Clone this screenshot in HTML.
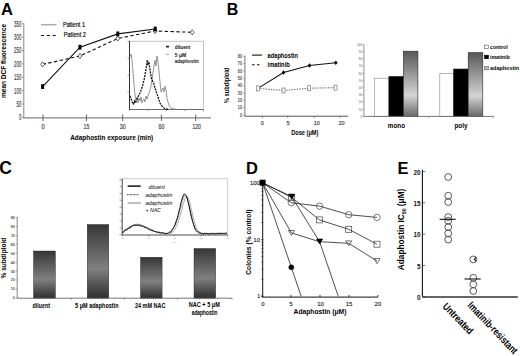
<!DOCTYPE html><html><head><meta charset="utf-8"><style>html,body{margin:0;padding:0;background:#fff;width:520px;height:356px;overflow:hidden}svg{display:block}text{font-family:"Liberation Sans",sans-serif}</style></head><body>
<svg width="520" height="356" viewBox="0 0 520 356">
<defs><linearGradient id="gb" x1="0" y1="0" x2="0" y2="1"><stop offset="0" stop-color="#575757"/><stop offset="0.68" stop-color="#d4d4d4"/><stop offset="1" stop-color="#686868"/></linearGradient><linearGradient id="gc" x1="0" y1="0" x2="0" y2="1"><stop offset="0" stop-color="#363636"/><stop offset="0.6" stop-color="#808080"/><stop offset="1" stop-color="#2e2e2e"/></linearGradient></defs>
<rect width="520" height="356" fill="#fff"/>
<text x="1.00" y="14.97" font-size="16.5" font-weight="bold" text-anchor="start" fill="#000">A</text>
<line x1="23.80" y1="23.50" x2="23.80" y2="118.00" stroke="#888" stroke-width="1"/>
<line x1="22.00" y1="117.50" x2="23.80" y2="117.50" stroke="#888" stroke-width="0.8"/>
<text x="21.30" y="120.41" font-size="8.3" text-anchor="end" fill="#333" textLength="2.40" lengthAdjust="spacingAndGlyphs" stroke="#333" stroke-width="0.13">0</text>
<line x1="22.00" y1="104.10" x2="23.80" y2="104.10" stroke="#888" stroke-width="0.8"/>
<text x="21.30" y="107.00" font-size="8.3" text-anchor="end" fill="#333" textLength="4.80" lengthAdjust="spacingAndGlyphs" stroke="#333" stroke-width="0.13">50</text>
<line x1="22.00" y1="90.70" x2="23.80" y2="90.70" stroke="#888" stroke-width="0.8"/>
<text x="21.30" y="93.61" font-size="8.3" text-anchor="end" fill="#333" textLength="7.20" lengthAdjust="spacingAndGlyphs" stroke="#333" stroke-width="0.13">100</text>
<line x1="22.00" y1="77.30" x2="23.80" y2="77.30" stroke="#888" stroke-width="0.8"/>
<text x="21.30" y="80.20" font-size="8.3" text-anchor="end" fill="#333" textLength="7.20" lengthAdjust="spacingAndGlyphs" stroke="#333" stroke-width="0.13">150</text>
<line x1="22.00" y1="63.90" x2="23.80" y2="63.90" stroke="#888" stroke-width="0.8"/>
<text x="21.30" y="66.80" font-size="8.3" text-anchor="end" fill="#333" textLength="7.20" lengthAdjust="spacingAndGlyphs" stroke="#333" stroke-width="0.13">200</text>
<line x1="22.00" y1="50.50" x2="23.80" y2="50.50" stroke="#888" stroke-width="0.8"/>
<text x="21.30" y="53.41" font-size="8.3" text-anchor="end" fill="#333" textLength="7.20" lengthAdjust="spacingAndGlyphs" stroke="#333" stroke-width="0.13">250</text>
<line x1="22.00" y1="37.10" x2="23.80" y2="37.10" stroke="#888" stroke-width="0.8"/>
<text x="21.30" y="40.00" font-size="8.3" text-anchor="end" fill="#333" textLength="7.20" lengthAdjust="spacingAndGlyphs" stroke="#333" stroke-width="0.13">300</text>
<line x1="22.00" y1="23.70" x2="23.80" y2="23.70" stroke="#888" stroke-width="0.8"/>
<text x="21.30" y="26.60" font-size="8.3" text-anchor="end" fill="#333" textLength="7.20" lengthAdjust="spacingAndGlyphs" stroke="#333" stroke-width="0.13">350</text>
<line x1="23.50" y1="117.90" x2="211.00" y2="117.90" stroke="#666" stroke-width="1"/>
<line x1="43.00" y1="114.50" x2="43.00" y2="121.00" stroke="#555" stroke-width="0.9"/>
<text x="43.00" y="129.28" font-size="6.5" text-anchor="middle" fill="#333" textLength="3.20" lengthAdjust="spacingAndGlyphs" stroke="#333" stroke-width="0.13">0</text>
<line x1="86.50" y1="114.50" x2="86.50" y2="121.00" stroke="#555" stroke-width="0.9"/>
<text x="86.50" y="129.28" font-size="6.5" text-anchor="middle" fill="#333" textLength="5.80" lengthAdjust="spacingAndGlyphs" stroke="#333" stroke-width="0.13">15</text>
<line x1="122.70" y1="114.50" x2="122.70" y2="121.00" stroke="#555" stroke-width="0.9"/>
<text x="122.70" y="129.28" font-size="6.5" text-anchor="middle" fill="#333" textLength="5.80" lengthAdjust="spacingAndGlyphs" stroke="#333" stroke-width="0.13">30</text>
<line x1="161.40" y1="114.50" x2="161.40" y2="121.00" stroke="#555" stroke-width="0.9"/>
<text x="161.40" y="129.28" font-size="6.5" text-anchor="middle" fill="#333" textLength="5.80" lengthAdjust="spacingAndGlyphs" stroke="#333" stroke-width="0.13">60</text>
<line x1="195.70" y1="114.50" x2="195.70" y2="121.00" stroke="#555" stroke-width="0.9"/>
<text x="196.70" y="129.28" font-size="6.5" text-anchor="middle" fill="#333" textLength="8.50" lengthAdjust="spacingAndGlyphs" stroke="#333" stroke-width="0.13">120</text>
<text x="70.20" y="139.98" font-size="6.8" font-weight="bold" text-anchor="start" fill="#000" textLength="83.00" lengthAdjust="spacingAndGlyphs">Adaphostin exposure (min)</text>
<text x="4.00" y="63.45" font-size="7" font-weight="bold" text-anchor="middle" fill="#000" textLength="74.00" lengthAdjust="spacingAndGlyphs" transform="rotate(-90 4.00 61.00)">mean DCF fluorescence</text>
<line x1="41.00" y1="24.70" x2="56.50" y2="24.70" stroke="#aaa" stroke-width="1.5"/>
<text x="62.90" y="27.40" font-size="6.3" text-anchor="start" fill="#000" textLength="22.20" lengthAdjust="spacingAndGlyphs" stroke="#000" stroke-width="0.15">Patient 1</text>
<line x1="41.00" y1="35.50" x2="56.50" y2="35.50" stroke="#111" stroke-width="1.2" stroke-dasharray="3.2 2.6"/>
<text x="63.70" y="36.50" font-size="6.3" text-anchor="start" fill="#000" textLength="22.20" lengthAdjust="spacingAndGlyphs" stroke="#000" stroke-width="0.15">Patient 2</text>
<polyline points="42.60,64.40 80.00,56.00 117.70,38.50 155.20,31.00 192.30,32.30" fill="none" stroke="#111" stroke-width="1.1" stroke-dasharray="3.4 2.4"/>
<polyline points="42.60,86.60 80.00,47.20 117.80,33.90 155.20,29.00" fill="none" stroke="#111" stroke-width="1.1"/>
<path d="M42.60 61.80 L44.50 64.40 L42.60 67.00 L40.70 64.40 Z" fill="#fff" stroke="#333" stroke-width="0.8"/>
<path d="M80.00 53.40 L81.90 56.00 L80.00 58.60 L78.10 56.00 Z" fill="#fff" stroke="#333" stroke-width="0.8"/>
<path d="M117.70 35.90 L119.60 38.50 L117.70 41.10 L115.80 38.50 Z" fill="#fff" stroke="#333" stroke-width="0.8"/>
<path d="M155.20 28.40 L157.10 31.00 L155.20 33.60 L153.30 31.00 Z" fill="#fff" stroke="#333" stroke-width="0.8"/>
<path d="M192.30 29.70 L194.20 32.30 L192.30 34.90 L190.40 32.30 Z" fill="#fff" stroke="#333" stroke-width="0.8"/>
<rect x="41.10" y="84.20" width="3.00" height="4.80" fill="#000" stroke="none" stroke-width="1"/>
<rect x="78.50" y="44.80" width="3.00" height="4.80" fill="#000" stroke="none" stroke-width="1"/>
<rect x="116.30" y="31.50" width="3.00" height="4.80" fill="#000" stroke="none" stroke-width="1"/>
<rect x="153.70" y="26.60" width="3.00" height="4.80" fill="#000" stroke="none" stroke-width="1"/>
<rect x="129.50" y="41.20" width="74.00" height="68.30" fill="#fff" stroke="#aaa" stroke-width="0.7"/>
<line x1="129.50" y1="41.20" x2="129.50" y2="109.50" stroke="#333" stroke-width="1"/>
<line x1="129.50" y1="109.50" x2="203.50" y2="109.50" stroke="#555" stroke-width="0.8"/>
<line x1="127.50" y1="41.20" x2="129.50" y2="41.20" stroke="#555" stroke-width="0.6"/>
<line x1="127.50" y1="58.20" x2="129.50" y2="58.20" stroke="#555" stroke-width="0.6"/>
<line x1="127.50" y1="75.20" x2="129.50" y2="75.20" stroke="#555" stroke-width="0.6"/>
<line x1="127.50" y1="92.20" x2="129.50" y2="92.20" stroke="#555" stroke-width="0.6"/>
<line x1="129.50" y1="109.50" x2="129.50" y2="111.00" stroke="#555" stroke-width="0.6"/>
<line x1="148.00" y1="109.50" x2="148.00" y2="111.00" stroke="#555" stroke-width="0.6"/>
<line x1="166.50" y1="109.50" x2="166.50" y2="111.00" stroke="#555" stroke-width="0.6"/>
<line x1="185.00" y1="109.50" x2="185.00" y2="111.00" stroke="#555" stroke-width="0.6"/>
<line x1="203.50" y1="109.50" x2="203.50" y2="111.00" stroke="#555" stroke-width="0.6"/>
<polyline points="130.00,57.00 131.00,54.00 132.00,60.00 133.00,72.00 134.00,84.00 135.00,95.00 136.00,100.00 137.00,97.00 138.00,103.00 139.00,98.00 140.00,101.00 141.00,97.00 142.00,103.00 143.00,100.00 144.00,99.00 145.00,102.00 146.00,96.00 147.00,99.00 148.00,96.00 149.00,93.00 150.00,90.00 151.00,86.00 152.00,80.00 153.00,72.00 154.00,66.00 155.00,60.00 156.00,66.00 157.00,56.00 158.00,62.00 159.00,72.00 160.00,82.00 161.00,92.00 162.00,90.00 163.00,88.00 164.00,92.00 165.00,86.00 166.00,90.00 167.00,98.00 168.00,102.00 169.00,105.00 170.00,107.00 171.00,108.00 172.00,108.50 174.00,109.00 176.00,109.00" fill="none" stroke="#888" stroke-width="0.9"/>
<polyline points="129.70,96.00 130.50,97.00 131.50,100.00 132.50,103.00 133.50,104.00 134.50,101.00 135.50,103.00 136.50,100.00 137.50,98.00 138.50,96.00 139.50,94.00 140.50,92.00 141.50,89.00 142.50,86.00 143.50,82.00 144.50,78.00 145.50,72.00 146.50,66.00 147.30,60.00 148.00,64.00 149.00,62.00 150.00,70.00 151.00,76.00 152.00,80.00 153.00,82.00 154.00,84.00 155.00,88.00 156.00,91.00 157.00,94.00 158.00,97.00 159.00,100.00 160.00,103.00 161.00,105.00 162.00,106.00 163.00,107.00 164.00,108.00 165.00,108.50 167.00,109.00 169.00,109.20" fill="none" stroke="#111" stroke-width="1.3" stroke-dasharray="2 1"/>
<line x1="166.00" y1="46.60" x2="169.00" y2="46.60" stroke="#111" stroke-width="1.6"/>
<text x="174.80" y="48.62" font-size="5.5" font-weight="bold" text-anchor="start" fill="#111" textLength="15.50" lengthAdjust="spacingAndGlyphs">diluent</text>
<line x1="166.00" y1="54.40" x2="169.00" y2="54.40" stroke="#999" stroke-width="0.9"/>
<text x="174.80" y="57.12" font-size="5.5" font-weight="bold" text-anchor="start" fill="#111" textLength="11.50" lengthAdjust="spacingAndGlyphs">5 μM</text>
<text x="174.80" y="63.32" font-size="5.5" font-weight="bold" text-anchor="start" fill="#111" textLength="24.00" lengthAdjust="spacingAndGlyphs">adaphostin</text>
<text x="226.70" y="14.70" font-size="16" font-weight="bold" text-anchor="start" fill="#000">B</text>
<line x1="244.90" y1="55.50" x2="244.90" y2="116.20" stroke="#666" stroke-width="0.9"/>
<line x1="243.30" y1="115.00" x2="244.90" y2="115.00" stroke="#666" stroke-width="0.6"/>
<text x="242.00" y="116.58" font-size="4.5" text-anchor="end" fill="#444" textLength="2.10" lengthAdjust="spacingAndGlyphs" stroke="#444" stroke-width="0.13">0</text>
<line x1="243.30" y1="107.67" x2="244.90" y2="107.67" stroke="#666" stroke-width="0.6"/>
<text x="242.00" y="109.25" font-size="4.5" text-anchor="end" fill="#444" textLength="4.20" lengthAdjust="spacingAndGlyphs" stroke="#444" stroke-width="0.13">10</text>
<line x1="243.30" y1="100.34" x2="244.90" y2="100.34" stroke="#666" stroke-width="0.6"/>
<text x="242.00" y="101.92" font-size="4.5" text-anchor="end" fill="#444" textLength="4.20" lengthAdjust="spacingAndGlyphs" stroke="#444" stroke-width="0.13">20</text>
<line x1="243.30" y1="93.01" x2="244.90" y2="93.01" stroke="#666" stroke-width="0.6"/>
<text x="242.00" y="94.59" font-size="4.5" text-anchor="end" fill="#444" textLength="4.20" lengthAdjust="spacingAndGlyphs" stroke="#444" stroke-width="0.13">30</text>
<line x1="243.30" y1="85.68" x2="244.90" y2="85.68" stroke="#666" stroke-width="0.6"/>
<text x="242.00" y="87.26" font-size="4.5" text-anchor="end" fill="#444" textLength="4.20" lengthAdjust="spacingAndGlyphs" stroke="#444" stroke-width="0.13">40</text>
<line x1="243.30" y1="78.35" x2="244.90" y2="78.35" stroke="#666" stroke-width="0.6"/>
<text x="242.00" y="79.92" font-size="4.5" text-anchor="end" fill="#444" textLength="4.20" lengthAdjust="spacingAndGlyphs" stroke="#444" stroke-width="0.13">50</text>
<line x1="243.30" y1="71.02" x2="244.90" y2="71.02" stroke="#666" stroke-width="0.6"/>
<text x="242.00" y="72.60" font-size="4.5" text-anchor="end" fill="#444" textLength="4.20" lengthAdjust="spacingAndGlyphs" stroke="#444" stroke-width="0.13">60</text>
<line x1="243.30" y1="63.69" x2="244.90" y2="63.69" stroke="#666" stroke-width="0.6"/>
<text x="242.00" y="65.27" font-size="4.5" text-anchor="end" fill="#444" textLength="4.20" lengthAdjust="spacingAndGlyphs" stroke="#444" stroke-width="0.13">70</text>
<line x1="243.30" y1="56.36" x2="244.90" y2="56.36" stroke="#666" stroke-width="0.6"/>
<text x="242.00" y="57.94" font-size="4.5" text-anchor="end" fill="#444" textLength="4.20" lengthAdjust="spacingAndGlyphs" stroke="#444" stroke-width="0.13">80</text>
<line x1="244.60" y1="116.20" x2="348.00" y2="116.20" stroke="#555" stroke-width="1"/>
<line x1="262.40" y1="116.20" x2="262.40" y2="118.00" stroke="#555" stroke-width="0.7"/>
<line x1="287.80" y1="116.20" x2="287.80" y2="118.00" stroke="#555" stroke-width="0.7"/>
<line x1="314.30" y1="116.20" x2="314.30" y2="118.00" stroke="#555" stroke-width="0.7"/>
<line x1="339.70" y1="116.20" x2="339.70" y2="118.00" stroke="#555" stroke-width="0.7"/>
<text x="262.40" y="125.10" font-size="6" text-anchor="middle" fill="#333" textLength="3.10" lengthAdjust="spacingAndGlyphs" stroke="#333" stroke-width="0.13">0</text>
<text x="288.00" y="125.10" font-size="6" text-anchor="middle" fill="#333" textLength="3.10" lengthAdjust="spacingAndGlyphs" stroke="#333" stroke-width="0.13">5</text>
<text x="316.80" y="125.10" font-size="6" text-anchor="middle" fill="#333" textLength="6.20" lengthAdjust="spacingAndGlyphs" stroke="#333" stroke-width="0.13">10</text>
<text x="341.50" y="125.10" font-size="6" text-anchor="middle" fill="#333" textLength="6.20" lengthAdjust="spacingAndGlyphs" stroke="#333" stroke-width="0.13">20</text>
<text x="304.80" y="135.01" font-size="6.3" font-weight="bold" text-anchor="middle" fill="#000" textLength="27.30" lengthAdjust="spacingAndGlyphs">Dose (μM)</text>
<text x="226.80" y="87.68" font-size="6.5" font-weight="bold" text-anchor="middle" fill="#000" textLength="35.50" lengthAdjust="spacingAndGlyphs" transform="rotate(-90 226.80 85.40)">% subdiploid</text>
<line x1="252.00" y1="55.10" x2="262.00" y2="55.10" stroke="#111" stroke-width="1.1"/>
<text x="267.60" y="57.58" font-size="6.8" font-weight="bold" text-anchor="start" fill="#000" textLength="30.30" lengthAdjust="spacingAndGlyphs">adaphostin</text>
<line x1="252.00" y1="64.80" x2="262.00" y2="64.80" stroke="#111" stroke-width="1.1" stroke-dasharray="2.6 2.4"/>
<text x="267.60" y="66.98" font-size="6.8" font-weight="bold" text-anchor="start" fill="#000" textLength="22.20" lengthAdjust="spacingAndGlyphs">imatinib</text>
<polyline points="257.90,88.40 283.50,90.50 309.20,88.20 335.50,87.70" fill="none" stroke="#444" stroke-width="0.9" stroke-dasharray="1.3 1.3"/>
<polyline points="257.90,88.40 283.50,72.50 309.50,65.50 335.80,62.70" fill="none" stroke="#111" stroke-width="1.1"/>
<rect x="256.40" y="85.90" width="3.00" height="5.00" fill="#fff" stroke="#777" stroke-width="0.7"/>
<rect x="282.00" y="88.00" width="3.00" height="5.00" fill="#fff" stroke="#777" stroke-width="0.7"/>
<rect x="307.70" y="85.70" width="3.00" height="5.00" fill="#fff" stroke="#777" stroke-width="0.7"/>
<rect x="334.00" y="85.20" width="3.00" height="5.00" fill="#fff" stroke="#777" stroke-width="0.7"/>
<path d="M283.50 70.20 L285.30 72.50 L283.50 74.80 L281.70 72.50 Z" fill="#000"/>
<path d="M309.50 63.20 L311.30 65.50 L309.50 67.80 L307.70 65.50 Z" fill="#000"/>
<path d="M335.80 60.40 L337.60 62.70 L335.80 65.00 L334.00 62.70 Z" fill="#000"/>
<line x1="363.90" y1="44.30" x2="363.90" y2="116.40" stroke="#777" stroke-width="0.8"/>
<line x1="362.40" y1="116.40" x2="363.90" y2="116.40" stroke="#777" stroke-width="0.5"/>
<text x="362.00" y="117.73" font-size="3.8" text-anchor="end" fill="#555" textLength="1.60" lengthAdjust="spacingAndGlyphs">0</text>
<line x1="362.40" y1="109.21" x2="363.90" y2="109.21" stroke="#777" stroke-width="0.5"/>
<text x="362.00" y="110.54" font-size="3.8" text-anchor="end" fill="#555" textLength="3.20" lengthAdjust="spacingAndGlyphs">10</text>
<line x1="362.40" y1="102.02" x2="363.90" y2="102.02" stroke="#777" stroke-width="0.5"/>
<text x="362.00" y="103.35" font-size="3.8" text-anchor="end" fill="#555" textLength="3.20" lengthAdjust="spacingAndGlyphs">20</text>
<line x1="362.40" y1="94.83" x2="363.90" y2="94.83" stroke="#777" stroke-width="0.5"/>
<text x="362.00" y="96.16" font-size="3.8" text-anchor="end" fill="#555" textLength="3.20" lengthAdjust="spacingAndGlyphs">30</text>
<line x1="362.40" y1="87.64" x2="363.90" y2="87.64" stroke="#777" stroke-width="0.5"/>
<text x="362.00" y="88.97" font-size="3.8" text-anchor="end" fill="#555" textLength="3.20" lengthAdjust="spacingAndGlyphs">40</text>
<line x1="362.40" y1="80.45" x2="363.90" y2="80.45" stroke="#777" stroke-width="0.5"/>
<text x="362.00" y="81.78" font-size="3.8" text-anchor="end" fill="#555" textLength="3.20" lengthAdjust="spacingAndGlyphs">50</text>
<line x1="362.40" y1="73.26" x2="363.90" y2="73.26" stroke="#777" stroke-width="0.5"/>
<text x="362.00" y="74.59" font-size="3.8" text-anchor="end" fill="#555" textLength="3.20" lengthAdjust="spacingAndGlyphs">60</text>
<line x1="362.40" y1="66.07" x2="363.90" y2="66.07" stroke="#777" stroke-width="0.5"/>
<text x="362.00" y="67.40" font-size="3.8" text-anchor="end" fill="#555" textLength="3.20" lengthAdjust="spacingAndGlyphs">70</text>
<line x1="362.40" y1="58.88" x2="363.90" y2="58.88" stroke="#777" stroke-width="0.5"/>
<text x="362.00" y="60.21" font-size="3.8" text-anchor="end" fill="#555" textLength="3.20" lengthAdjust="spacingAndGlyphs">80</text>
<line x1="362.40" y1="51.69" x2="363.90" y2="51.69" stroke="#777" stroke-width="0.5"/>
<text x="362.00" y="53.02" font-size="3.8" text-anchor="end" fill="#555" textLength="3.20" lengthAdjust="spacingAndGlyphs">90</text>
<line x1="362.40" y1="44.50" x2="363.90" y2="44.50" stroke="#777" stroke-width="0.5"/>
<text x="362.00" y="45.83" font-size="3.8" text-anchor="end" fill="#555" textLength="4.80" lengthAdjust="spacingAndGlyphs">100</text>
<rect x="374.30" y="78.20" width="14.60" height="38.20" fill="#fff" stroke="#888" stroke-width="0.6"/>
<rect x="388.90" y="76.40" width="14.50" height="40.00" fill="#000" stroke="#222" stroke-width="0.6"/>
<rect x="403.40" y="51.20" width="14.50" height="65.20" fill="url(#gb)" stroke="#222" stroke-width="0.6"/>
<rect x="439.80" y="73.40" width="13.80" height="43.00" fill="#fff" stroke="#888" stroke-width="0.6"/>
<rect x="453.60" y="69.00" width="14.60" height="47.40" fill="#000" stroke="#222" stroke-width="0.6"/>
<rect x="468.20" y="52.70" width="14.60" height="63.70" fill="url(#gb)" stroke="#222" stroke-width="0.6"/>
<line x1="363.90" y1="116.40" x2="493.50" y2="116.40" stroke="#666" stroke-width="0.9"/>
<line x1="429.00" y1="116.40" x2="429.00" y2="118.00" stroke="#666" stroke-width="0.6"/>
<line x1="493.50" y1="116.40" x2="493.50" y2="118.00" stroke="#666" stroke-width="0.6"/>
<text x="396.40" y="128.32" font-size="7.2" font-weight="bold" text-anchor="middle" fill="#000" textLength="17.20" lengthAdjust="spacingAndGlyphs">mono</text>
<text x="461.00" y="128.32" font-size="7.2" font-weight="bold" text-anchor="middle" fill="#000" textLength="13.00" lengthAdjust="spacingAndGlyphs">poly</text>
<rect x="484.60" y="45.10" width="3.80" height="3.50" fill="#fff" stroke="#555" stroke-width="0.6"/>
<rect x="484.60" y="55.20" width="3.80" height="3.50" fill="#000" stroke="#000" stroke-width="0.6"/>
<rect x="484.60" y="66.40" width="3.80" height="3.50" fill="#bbb" stroke="#666" stroke-width="0.6"/>
<text x="490.00" y="49.10" font-size="6" font-weight="bold" text-anchor="start" fill="#000" textLength="17.60" lengthAdjust="spacingAndGlyphs">control</text>
<text x="490.00" y="59.30" font-size="6" font-weight="bold" text-anchor="start" fill="#000" textLength="19.90" lengthAdjust="spacingAndGlyphs">imatinib</text>
<text x="490.00" y="70.10" font-size="6" font-weight="bold" text-anchor="start" fill="#000" textLength="29.20" lengthAdjust="spacingAndGlyphs">adaphostin</text>
<text x="-0.70" y="173.93" font-size="17.5" font-weight="bold" text-anchor="start" fill="#000">C</text>
<line x1="17.20" y1="216.80" x2="17.20" y2="298.20" stroke="#666" stroke-width="0.8"/>
<line x1="15.70" y1="297.80" x2="17.20" y2="297.80" stroke="#666" stroke-width="0.5"/>
<text x="14.70" y="299.31" font-size="4.3" text-anchor="end" fill="#444" textLength="2.00" lengthAdjust="spacingAndGlyphs" stroke="#444" stroke-width="0.13">0</text>
<line x1="15.70" y1="288.89" x2="17.20" y2="288.89" stroke="#666" stroke-width="0.5"/>
<text x="14.70" y="290.39" font-size="4.3" text-anchor="end" fill="#444" textLength="4.00" lengthAdjust="spacingAndGlyphs" stroke="#444" stroke-width="0.13">10</text>
<line x1="15.70" y1="279.98" x2="17.20" y2="279.98" stroke="#666" stroke-width="0.5"/>
<text x="14.70" y="281.49" font-size="4.3" text-anchor="end" fill="#444" textLength="4.00" lengthAdjust="spacingAndGlyphs" stroke="#444" stroke-width="0.13">20</text>
<line x1="15.70" y1="271.07" x2="17.20" y2="271.07" stroke="#666" stroke-width="0.5"/>
<text x="14.70" y="272.57" font-size="4.3" text-anchor="end" fill="#444" textLength="4.00" lengthAdjust="spacingAndGlyphs" stroke="#444" stroke-width="0.13">30</text>
<line x1="15.70" y1="262.16" x2="17.20" y2="262.16" stroke="#666" stroke-width="0.5"/>
<text x="14.70" y="263.67" font-size="4.3" text-anchor="end" fill="#444" textLength="4.00" lengthAdjust="spacingAndGlyphs" stroke="#444" stroke-width="0.13">40</text>
<line x1="15.70" y1="253.25" x2="17.20" y2="253.25" stroke="#666" stroke-width="0.5"/>
<text x="14.70" y="254.75" font-size="4.3" text-anchor="end" fill="#444" textLength="4.00" lengthAdjust="spacingAndGlyphs" stroke="#444" stroke-width="0.13">50</text>
<line x1="15.70" y1="244.34" x2="17.20" y2="244.34" stroke="#666" stroke-width="0.5"/>
<text x="14.70" y="245.84" font-size="4.3" text-anchor="end" fill="#444" textLength="4.00" lengthAdjust="spacingAndGlyphs" stroke="#444" stroke-width="0.13">60</text>
<line x1="15.70" y1="235.43" x2="17.20" y2="235.43" stroke="#666" stroke-width="0.5"/>
<text x="14.70" y="236.94" font-size="4.3" text-anchor="end" fill="#444" textLength="4.00" lengthAdjust="spacingAndGlyphs" stroke="#444" stroke-width="0.13">70</text>
<line x1="15.70" y1="226.52" x2="17.20" y2="226.52" stroke="#666" stroke-width="0.5"/>
<text x="14.70" y="228.03" font-size="4.3" text-anchor="end" fill="#444" textLength="4.00" lengthAdjust="spacingAndGlyphs" stroke="#444" stroke-width="0.13">80</text>
<line x1="15.70" y1="217.61" x2="17.20" y2="217.61" stroke="#666" stroke-width="0.5"/>
<text x="14.70" y="219.12" font-size="4.3" text-anchor="end" fill="#444" textLength="4.00" lengthAdjust="spacingAndGlyphs" stroke="#444" stroke-width="0.13">90</text>
<text x="3.60" y="260.55" font-size="7" font-weight="bold" text-anchor="middle" fill="#000" textLength="40.80" lengthAdjust="spacingAndGlyphs" transform="rotate(-90 3.60 258.10)">% subdiploid</text>
<rect x="33.50" y="251.00" width="21.90" height="47.20" fill="url(#gc)" stroke="#222" stroke-width="0.4"/>
<rect x="87.20" y="224.50" width="21.60" height="73.70" fill="url(#gc)" stroke="#222" stroke-width="0.4"/>
<rect x="140.50" y="257.20" width="21.60" height="41.00" fill="url(#gc)" stroke="#222" stroke-width="0.4"/>
<rect x="194.00" y="248.50" width="21.70" height="49.70" fill="url(#gc)" stroke="#222" stroke-width="0.4"/>
<line x1="17.00" y1="298.20" x2="232.10" y2="298.20" stroke="#666" stroke-width="0.9"/>
<line x1="71.20" y1="298.20" x2="71.20" y2="299.80" stroke="#555" stroke-width="0.6"/>
<line x1="124.50" y1="298.20" x2="124.50" y2="299.80" stroke="#555" stroke-width="0.6"/>
<line x1="177.60" y1="298.20" x2="177.60" y2="299.80" stroke="#555" stroke-width="0.6"/>
<line x1="232.10" y1="298.20" x2="232.10" y2="299.80" stroke="#555" stroke-width="0.6"/>
<text x="41.20" y="308.40" font-size="6.3" font-weight="bold" text-anchor="middle" fill="#000" textLength="17.60" lengthAdjust="spacingAndGlyphs">diluent</text>
<text x="96.80" y="308.00" font-size="6.3" font-weight="bold" text-anchor="middle" fill="#000" textLength="43.50" lengthAdjust="spacingAndGlyphs">5 μM adaphostin</text>
<text x="150.20" y="308.40" font-size="6.3" font-weight="bold" text-anchor="middle" fill="#000" textLength="30.50" lengthAdjust="spacingAndGlyphs">24 mM NAC</text>
<text x="204.30" y="307.40" font-size="6.3" font-weight="bold" text-anchor="middle" fill="#000" textLength="31.00" lengthAdjust="spacingAndGlyphs">NAC + 5 μM</text>
<text x="204.60" y="314.50" font-size="6.3" font-weight="bold" text-anchor="middle" fill="#000" textLength="25.80" lengthAdjust="spacingAndGlyphs">adaphostin</text>
<rect x="122.20" y="178.80" width="105.60" height="56.20" fill="#fff" stroke="#aaa" stroke-width="0.6"/>
<line x1="122.20" y1="178.80" x2="122.20" y2="235.00" stroke="#333" stroke-width="0.8"/>
<line x1="122.20" y1="235.00" x2="227.80" y2="235.00" stroke="#444" stroke-width="0.8"/>
<line x1="120.70" y1="235.00" x2="122.20" y2="235.00" stroke="#444" stroke-width="0.5"/>
<line x1="120.70" y1="228.10" x2="122.20" y2="228.10" stroke="#444" stroke-width="0.5"/>
<line x1="120.70" y1="221.20" x2="122.20" y2="221.20" stroke="#444" stroke-width="0.5"/>
<line x1="120.70" y1="214.30" x2="122.20" y2="214.30" stroke="#444" stroke-width="0.5"/>
<line x1="120.70" y1="207.40" x2="122.20" y2="207.40" stroke="#444" stroke-width="0.5"/>
<line x1="120.70" y1="200.50" x2="122.20" y2="200.50" stroke="#444" stroke-width="0.5"/>
<line x1="120.70" y1="193.60" x2="122.20" y2="193.60" stroke="#444" stroke-width="0.5"/>
<line x1="120.70" y1="186.70" x2="122.20" y2="186.70" stroke="#444" stroke-width="0.5"/>
<line x1="120.70" y1="179.80" x2="122.20" y2="179.80" stroke="#444" stroke-width="0.5"/>
<line x1="122.50" y1="235.00" x2="122.50" y2="236.50" stroke="#444" stroke-width="0.5"/>
<text x="122.50" y="239.37" font-size="2.2" text-anchor="middle" fill="#666" textLength="2.20" lengthAdjust="spacingAndGlyphs">10</text>
<line x1="148.70" y1="235.00" x2="148.70" y2="236.50" stroke="#444" stroke-width="0.5"/>
<text x="148.70" y="239.37" font-size="2.2" text-anchor="middle" fill="#666" textLength="2.20" lengthAdjust="spacingAndGlyphs">10</text>
<line x1="174.50" y1="235.00" x2="174.50" y2="236.50" stroke="#444" stroke-width="0.5"/>
<text x="174.50" y="239.37" font-size="2.2" text-anchor="middle" fill="#666" textLength="2.20" lengthAdjust="spacingAndGlyphs">10</text>
<line x1="201.20" y1="235.00" x2="201.20" y2="236.50" stroke="#444" stroke-width="0.5"/>
<text x="201.20" y="239.37" font-size="2.2" text-anchor="middle" fill="#666" textLength="2.20" lengthAdjust="spacingAndGlyphs">10</text>
<line x1="227.50" y1="235.00" x2="227.50" y2="236.50" stroke="#444" stroke-width="0.5"/>
<text x="227.50" y="239.37" font-size="2.2" text-anchor="middle" fill="#666" textLength="2.20" lengthAdjust="spacingAndGlyphs">10</text>
<text x="174.50" y="243.00" font-size="2" text-anchor="middle" fill="#888" textLength="4.50" lengthAdjust="spacingAndGlyphs">FL2-H</text>
<text x="120.60" y="235.91" font-size="2.6" text-anchor="end" fill="#666" textLength="1.10" lengthAdjust="spacingAndGlyphs">0</text>
<text x="120.60" y="229.01" font-size="2.6" text-anchor="end" fill="#666" textLength="1.10" lengthAdjust="spacingAndGlyphs">1</text>
<text x="120.60" y="222.11" font-size="2.6" text-anchor="end" fill="#666" textLength="1.10" lengthAdjust="spacingAndGlyphs">2</text>
<text x="120.60" y="215.21" font-size="2.6" text-anchor="end" fill="#666" textLength="1.10" lengthAdjust="spacingAndGlyphs">3</text>
<text x="120.60" y="208.31" font-size="2.6" text-anchor="end" fill="#666" textLength="1.10" lengthAdjust="spacingAndGlyphs">4</text>
<text x="120.60" y="201.41" font-size="2.6" text-anchor="end" fill="#666" textLength="1.10" lengthAdjust="spacingAndGlyphs">5</text>
<text x="120.60" y="194.51" font-size="2.6" text-anchor="end" fill="#666" textLength="1.10" lengthAdjust="spacingAndGlyphs">6</text>
<text x="120.60" y="187.61" font-size="2.6" text-anchor="end" fill="#666" textLength="1.10" lengthAdjust="spacingAndGlyphs">7</text>
<text x="120.60" y="180.71" font-size="2.6" text-anchor="end" fill="#666" textLength="1.10" lengthAdjust="spacingAndGlyphs">8</text>
<polyline points="122.60,232.40 123.30,232.40 124.00,230.76 124.70,230.14 125.40,229.74 126.10,229.96 126.80,229.61 127.50,228.29 128.20,228.50 128.90,228.11 129.60,226.86 130.30,227.03 131.00,226.24 131.70,226.27 132.40,225.76 133.10,226.00 133.80,225.21 134.50,224.74 135.20,224.96 135.90,224.60 136.60,224.62 137.30,225.28 138.00,224.55 138.70,224.81 139.40,225.24 140.10,225.68 140.80,224.94 141.50,225.59 142.20,225.56 142.90,225.64 143.60,226.11 144.30,226.19 145.00,227.09 145.70,226.98 146.40,227.72 147.10,227.53 147.80,227.94 148.50,229.15 149.20,229.46 149.90,229.71 150.60,229.22 151.30,230.12 152.00,230.22 152.70,230.88 153.40,230.93 154.10,231.33 154.80,231.61 155.50,231.58 156.20,231.80 156.90,231.64 157.60,232.07 158.30,231.96 159.00,232.18 159.70,232.17 160.40,232.64 161.10,233.30 161.80,232.63 162.50,232.60 163.20,232.74 163.90,233.17 164.60,233.06 165.30,233.66 166.00,233.01 166.70,233.32 167.40,233.66 168.10,233.89 168.80,232.99 169.50,232.78 170.20,233.64 170.90,232.65 171.60,232.75 172.30,232.58 173.00,231.79 173.70,230.46 174.40,229.36 175.10,229.12 175.80,227.20 176.50,226.41 177.20,224.13 177.90,222.88 178.60,220.44 179.30,218.29 180.00,216.55 180.70,213.52 181.40,211.61 182.10,209.09 182.80,205.75 183.50,203.77 184.20,201.26 184.90,199.14 185.60,197.56 186.30,197.34 187.00,197.43 187.70,197.16 188.40,199.06 189.10,200.22 189.80,202.64 190.50,205.93 191.20,208.79 191.90,211.77 192.60,214.67 193.30,217.64 194.00,220.39 194.70,222.78 195.40,224.58 196.10,226.91 196.80,228.54 197.50,229.49 198.20,231.02 198.90,231.74 199.60,231.59 200.30,232.54 201.00,232.84 201.70,233.66 202.40,233.38 203.10,233.31 203.80,234.00 204.50,233.39 205.20,233.40 205.90,234.05 206.60,233.44 207.30,233.63 208.00,233.40 208.70,233.76 209.40,233.37 210.10,233.34 210.80,234.13 211.50,234.08 212.20,233.41 212.90,233.09 213.60,233.87 214.30,233.65 215.00,233.50 215.70,233.80 216.40,233.75 217.10,233.81 217.80,233.74 218.50,233.49 219.20,233.82 219.90,233.74 220.60,233.30 221.30,234.12 222.00,233.52 222.70,233.34 223.40,233.81 224.10,233.91 224.80,233.27 225.50,233.89 226.20,233.94 226.90,233.67" fill="none" stroke="#a0a0a0" stroke-width="0.9"/>
<polyline points="122.60,232.40 123.30,232.40 124.00,230.66 124.70,230.27 125.40,229.27 126.10,229.33 126.80,228.39 127.50,228.78 128.20,228.13 128.90,227.31 129.60,226.59 130.30,226.68 131.00,226.54 131.70,226.29 132.40,225.44 133.10,225.53 133.80,224.52 134.50,224.26 135.20,224.87 135.90,224.64 136.60,223.94 137.30,224.13 138.00,223.97 138.70,224.60 139.40,224.98 140.10,224.94 140.80,224.53 141.50,225.38 142.20,225.54 142.90,225.73 143.60,226.03 144.30,226.37 145.00,226.10 145.70,227.37 146.40,227.91 147.10,227.16 147.80,227.61 148.50,227.85 149.20,228.88 149.90,228.62 150.60,229.00 151.30,230.19 152.00,229.88 152.70,230.09 153.40,230.59 154.10,231.04 154.80,231.58 155.50,231.76 156.20,232.12 156.90,232.52 157.60,232.08 158.30,232.62 159.00,232.15 159.70,233.20 160.40,232.30 161.10,232.66 161.80,232.49 162.50,232.61 163.20,232.68 163.90,233.13 164.60,233.86 165.30,233.02 166.00,233.73 166.70,233.58 167.40,233.12 168.10,233.21 168.80,233.21 169.50,232.35 170.20,232.39 170.90,232.22 171.60,231.65 172.30,230.05 173.00,229.46 173.70,227.87 174.40,227.02 175.10,225.71 175.80,223.68 176.50,221.58 177.20,220.41 177.90,217.51 178.60,214.96 179.30,212.47 180.00,209.65 180.70,207.73 181.40,204.11 182.10,201.14 182.80,199.75 183.50,197.58 184.20,196.27 184.90,195.31 185.60,195.49 186.30,196.20 187.00,197.27 187.70,200.23 188.40,202.69 189.10,205.48 189.80,208.58 190.50,211.83 191.20,213.90 191.90,217.06 192.60,220.77 193.30,222.79 194.00,225.22 194.70,227.10 195.40,228.63 196.10,229.55 196.80,230.64 197.50,231.70 198.20,232.50 198.90,232.78 199.60,233.35 200.30,233.06 201.00,233.03 201.70,233.54 202.40,233.98 203.10,233.91 203.80,233.70 204.50,233.45 205.20,233.24 205.90,233.73 206.60,233.23 207.30,233.45 208.00,233.68 208.70,233.75 209.40,233.60 210.10,233.36 210.80,233.70 211.50,233.37 212.20,233.65 212.90,233.91 213.60,233.56 214.30,233.37 215.00,234.11 215.70,233.69 216.40,233.69 217.10,233.14 217.80,233.08 218.50,233.75 219.20,233.12 219.90,233.25 220.60,233.89 221.30,233.64 222.00,234.05 222.70,233.22 223.40,233.41 224.10,233.14 224.80,233.25 225.50,233.40 226.20,233.32 226.90,233.52" fill="none" stroke="#333" stroke-width="0.9" stroke-dasharray="0.9 0.7"/>
<polyline points="122.60,232.40 123.30,232.40 124.00,231.38 124.70,230.88 125.40,229.76 126.10,230.27 126.80,229.83 127.50,229.42 128.20,228.09 128.90,228.53 129.60,228.33 130.30,226.96 131.00,227.46 131.70,226.25 132.40,226.14 133.10,225.67 133.80,225.28 134.50,225.53 135.20,225.11 135.90,225.92 136.60,224.99 137.30,225.29 138.00,225.08 138.70,225.88 139.40,225.21 140.10,225.13 140.80,226.34 141.50,226.23 142.20,226.16 142.90,226.10 143.60,227.07 144.30,227.43 145.00,227.65 145.70,227.53 146.40,227.69 147.10,228.45 147.80,228.82 148.50,229.11 149.20,229.50 149.90,229.74 150.60,230.45 151.30,230.25 152.00,229.98 152.70,230.93 153.40,230.79 154.10,231.74 154.80,231.34 155.50,231.48 156.20,231.78 156.90,232.15 157.60,232.36 158.30,232.32 159.00,232.16 159.70,233.18 160.40,233.36 161.10,232.67 161.80,232.56 162.50,233.11 163.20,233.27 163.90,232.99 164.60,233.68 165.30,233.61 166.00,233.70 166.70,233.22 167.40,233.48 168.10,233.46 168.80,232.71 169.50,232.07 170.20,232.39 170.90,231.25 171.60,230.77 172.30,229.21 173.00,228.32 173.70,227.33 174.40,225.89 175.10,224.49 175.80,222.16 176.50,220.33 177.20,218.42 177.90,215.80 178.60,213.21 179.30,209.82 180.00,207.60 180.70,203.60 181.40,201.38 182.10,198.68 182.80,196.73 183.50,194.75 184.20,193.89 184.90,194.06 185.60,194.73 186.30,195.74 187.00,197.50 187.70,200.51 188.40,202.99 189.10,205.86 189.80,209.72 190.50,213.28 191.20,216.43 191.90,218.81 192.60,221.54 193.30,223.57 194.00,225.73 194.70,228.17 195.40,229.63 196.10,230.67 196.80,231.63 197.50,231.68 198.20,232.00 198.90,232.31 199.60,233.35 200.30,232.80 201.00,233.59 201.70,233.54 202.40,233.23 203.10,234.04 203.80,234.05 204.50,233.18 205.20,233.84 205.90,233.77 206.60,233.50 207.30,233.39 208.00,234.19 208.70,233.80 209.40,233.68 210.10,233.62 210.80,233.95 211.50,233.50 212.20,233.05 212.90,233.73 213.60,233.55 214.30,234.06 215.00,233.87 215.70,233.40 216.40,234.06 217.10,233.14 217.80,233.11 218.50,234.08 219.20,233.07 219.90,233.75 220.60,233.27 221.30,233.29 222.00,233.85 222.70,233.39 223.40,233.42 224.10,233.23 224.80,233.88 225.50,233.29 226.20,233.05 226.90,233.39" fill="none" stroke="#111" stroke-width="1.0"/>
<line x1="127.70" y1="186.10" x2="140.70" y2="186.10" stroke="#000" stroke-width="1.4"/>
<text x="148.50" y="188.80" font-size="6" text-anchor="start" fill="#222" textLength="16.20" lengthAdjust="spacingAndGlyphs" font-style="italic" stroke="#222" stroke-width="0.05">diluent</text>
<line x1="127.20" y1="194.70" x2="138.80" y2="194.70" stroke="#222" stroke-width="1.0" stroke-dasharray="0.8 0.6"/>
<text x="145.40" y="197.30" font-size="6" text-anchor="start" fill="#222" textLength="27.00" lengthAdjust="spacingAndGlyphs" font-style="italic" stroke="#222" stroke-width="0.05">adaphostin</text>
<line x1="127.70" y1="203.00" x2="140.70" y2="203.00" stroke="#aaa" stroke-width="1.5"/>
<text x="145.40" y="205.10" font-size="6" text-anchor="start" fill="#222" textLength="27.00" lengthAdjust="spacingAndGlyphs" font-style="italic" stroke="#222" stroke-width="0.05">adaphostin</text>
<text x="145.40" y="211.50" font-size="6" text-anchor="start" fill="#222" textLength="15.50" lengthAdjust="spacingAndGlyphs" font-style="italic" stroke="#222" stroke-width="0.05">+ NAC</text>
<text x="245.90" y="173.78" font-size="16.5" font-weight="bold" text-anchor="start" fill="#000">D</text>
<line x1="262.70" y1="182.80" x2="262.70" y2="297.10" stroke="#111" stroke-width="1"/>
<line x1="261.20" y1="279.30" x2="263.40" y2="279.30" stroke="#333" stroke-width="0.6"/>
<line x1="261.20" y1="269.30" x2="263.40" y2="269.30" stroke="#333" stroke-width="0.6"/>
<line x1="261.20" y1="262.20" x2="263.40" y2="262.20" stroke="#333" stroke-width="0.6"/>
<line x1="261.20" y1="256.70" x2="263.40" y2="256.70" stroke="#333" stroke-width="0.6"/>
<line x1="261.20" y1="252.20" x2="263.40" y2="252.20" stroke="#333" stroke-width="0.6"/>
<line x1="261.20" y1="248.40" x2="263.40" y2="248.40" stroke="#333" stroke-width="0.6"/>
<line x1="261.20" y1="245.10" x2="263.40" y2="245.10" stroke="#333" stroke-width="0.6"/>
<line x1="261.20" y1="242.20" x2="263.40" y2="242.20" stroke="#333" stroke-width="0.6"/>
<line x1="261.20" y1="222.50" x2="263.40" y2="222.50" stroke="#333" stroke-width="0.6"/>
<line x1="261.20" y1="212.50" x2="263.40" y2="212.50" stroke="#333" stroke-width="0.6"/>
<line x1="261.20" y1="205.40" x2="263.40" y2="205.40" stroke="#333" stroke-width="0.6"/>
<line x1="261.20" y1="199.90" x2="263.40" y2="199.90" stroke="#333" stroke-width="0.6"/>
<line x1="261.20" y1="195.40" x2="263.40" y2="195.40" stroke="#333" stroke-width="0.6"/>
<line x1="261.20" y1="191.60" x2="263.40" y2="191.60" stroke="#333" stroke-width="0.6"/>
<line x1="261.20" y1="188.30" x2="263.40" y2="188.30" stroke="#333" stroke-width="0.6"/>
<line x1="261.20" y1="185.40" x2="263.40" y2="185.40" stroke="#333" stroke-width="0.6"/>
<line x1="261.00" y1="296.40" x2="263.50" y2="296.40" stroke="#333" stroke-width="0.7"/>
<line x1="261.00" y1="239.60" x2="263.50" y2="239.60" stroke="#333" stroke-width="0.7"/>
<line x1="261.00" y1="182.80" x2="263.50" y2="182.80" stroke="#333" stroke-width="0.7"/>
<line x1="262.10" y1="297.10" x2="377.90" y2="297.10" stroke="#111" stroke-width="1"/>
<line x1="262.20" y1="297.10" x2="262.20" y2="294.90" stroke="#111" stroke-width="0.8"/>
<line x1="290.90" y1="297.10" x2="290.90" y2="294.90" stroke="#111" stroke-width="0.8"/>
<line x1="320.00" y1="297.10" x2="320.00" y2="294.90" stroke="#111" stroke-width="0.8"/>
<line x1="349.00" y1="297.10" x2="349.00" y2="294.90" stroke="#111" stroke-width="0.8"/>
<line x1="377.90" y1="297.10" x2="377.90" y2="294.90" stroke="#111" stroke-width="0.8"/>
<text x="262.90" y="305.97" font-size="6.2" text-anchor="middle" fill="#222" textLength="3.30" lengthAdjust="spacingAndGlyphs" stroke="#222" stroke-width="0.13">0</text>
<text x="290.90" y="305.97" font-size="6.2" text-anchor="middle" fill="#222" textLength="3.30" lengthAdjust="spacingAndGlyphs" stroke="#222" stroke-width="0.13">5</text>
<text x="320.50" y="305.97" font-size="6.2" text-anchor="middle" fill="#222" textLength="6.60" lengthAdjust="spacingAndGlyphs" stroke="#222" stroke-width="0.13">10</text>
<text x="349.00" y="305.97" font-size="6.2" text-anchor="middle" fill="#222" textLength="6.60" lengthAdjust="spacingAndGlyphs" stroke="#222" stroke-width="0.13">15</text>
<text x="377.90" y="305.97" font-size="6.2" text-anchor="middle" fill="#222" textLength="6.60" lengthAdjust="spacingAndGlyphs" stroke="#222" stroke-width="0.13">20</text>
<text x="320.00" y="314.28" font-size="6.8" font-weight="bold" text-anchor="middle" fill="#000" textLength="52.80" lengthAdjust="spacingAndGlyphs">Adaphostin (μM)</text>
<text x="248.20" y="244.41" font-size="6.6" font-weight="bold" text-anchor="middle" fill="#000" textLength="65.30" lengthAdjust="spacingAndGlyphs" transform="rotate(-90 248.20 242.10)">Colonies (% control)</text>
<text x="259.80" y="184.67" font-size="6.2" text-anchor="end" fill="#222" textLength="9.90" lengthAdjust="spacingAndGlyphs" stroke="#222" stroke-width="0.13">100</text>
<text x="260.00" y="241.77" font-size="6.2" text-anchor="end" fill="#222" textLength="6.50" lengthAdjust="spacingAndGlyphs" stroke="#222" stroke-width="0.13">10</text>
<text x="260.30" y="298.37" font-size="6.2" text-anchor="end" fill="#222" textLength="3.00" lengthAdjust="spacingAndGlyphs" stroke="#222" stroke-width="0.13">1</text>
<clipPath id="dclip"><rect x="262" y="175" width="120" height="122"/></clipPath>
<g clip-path="url(#dclip)">
<polyline points="262.60,182.80 291.30,267.30 301.20,296.40" fill="none" stroke="#222" stroke-width="0.8"/>
<polyline points="262.60,182.80 291.60,196.60 319.60,241.70 338.30,296.40" fill="none" stroke="#222" stroke-width="0.8"/>
<polyline points="262.60,182.80 291.30,202.80 319.60,206.10 348.70,214.70 377.00,217.40" fill="none" stroke="#222" stroke-width="0.8"/>
<polyline points="262.60,182.80 291.60,197.30 319.40,219.90 348.70,229.30 377.00,244.20" fill="none" stroke="#222" stroke-width="0.8"/>
<polyline points="262.60,182.80 291.40,232.90 319.40,241.70 348.70,243.30 377.00,261.00" fill="none" stroke="#222" stroke-width="0.8"/>
</g>
<circle cx="291.30" cy="267.30" r="2.5" fill="#000" stroke="#000" stroke-width="0.5"/>
<circle cx="291.30" cy="202.80" r="3.2" fill="none" stroke="#444" stroke-width="0.7"/>
<circle cx="319.60" cy="206.10" r="3.2" fill="none" stroke="#444" stroke-width="0.7"/>
<circle cx="348.70" cy="214.70" r="3.2" fill="none" stroke="#444" stroke-width="0.7"/>
<circle cx="377.00" cy="217.40" r="3.2" fill="none" stroke="#444" stroke-width="0.7"/>
<rect x="288.60" y="194.30" width="6.00" height="6.00" fill="none" stroke="#444" stroke-width="0.7"/>
<rect x="316.40" y="216.90" width="6.00" height="6.00" fill="none" stroke="#444" stroke-width="0.7"/>
<rect x="345.70" y="226.30" width="6.00" height="6.00" fill="none" stroke="#444" stroke-width="0.7"/>
<rect x="374.00" y="241.20" width="6.00" height="6.00" fill="none" stroke="#444" stroke-width="0.7"/>
<path d="M288.40 230.50 L294.40 230.50 L291.40 235.50 Z" fill="none" stroke="#333" stroke-width="0.7"/>
<path d="M345.70 240.90 L351.70 240.90 L348.70 245.90 Z" fill="none" stroke="#333" stroke-width="0.7"/>
<path d="M374.00 258.60 L380.00 258.60 L377.00 263.60 Z" fill="none" stroke="#333" stroke-width="0.7"/>
<path d="M288.70 194.20 L294.70 194.20 L291.70 199.20 Z" fill="#000" stroke="#000" stroke-width="0.7"/>
<path d="M316.60 239.00 L322.60 239.00 L319.60 244.00 Z" fill="#000" stroke="#000" stroke-width="0.7"/>
<rect x="259.60" y="179.70" width="6.00" height="6.00" fill="#000" stroke="none" stroke-width="1"/>
<text x="397.50" y="173.88" font-size="16.5" font-weight="bold" text-anchor="start" fill="#000">E</text>
<line x1="422.40" y1="169.70" x2="422.40" y2="296.80" stroke="#111" stroke-width="1.1"/>
<line x1="422.40" y1="296.80" x2="425.20" y2="296.80" stroke="#333" stroke-width="0.7"/>
<text x="420.40" y="299.98" font-size="6.8" font-weight="bold" text-anchor="end" fill="#111" textLength="3.50" lengthAdjust="spacingAndGlyphs">0</text>
<line x1="422.40" y1="265.48" x2="425.20" y2="265.48" stroke="#333" stroke-width="0.7"/>
<text x="420.40" y="268.66" font-size="6.8" font-weight="bold" text-anchor="end" fill="#111" textLength="3.50" lengthAdjust="spacingAndGlyphs">5</text>
<line x1="422.40" y1="234.15" x2="425.20" y2="234.15" stroke="#333" stroke-width="0.7"/>
<text x="420.40" y="237.33" font-size="6.8" font-weight="bold" text-anchor="end" fill="#111" textLength="7.00" lengthAdjust="spacingAndGlyphs">10</text>
<line x1="422.40" y1="202.83" x2="425.20" y2="202.83" stroke="#333" stroke-width="0.7"/>
<text x="420.40" y="206.01" font-size="6.8" font-weight="bold" text-anchor="end" fill="#111" textLength="7.00" lengthAdjust="spacingAndGlyphs">15</text>
<line x1="422.40" y1="171.50" x2="425.20" y2="171.50" stroke="#333" stroke-width="0.7"/>
<text x="420.40" y="174.68" font-size="6.8" font-weight="bold" text-anchor="end" fill="#111" textLength="7.00" lengthAdjust="spacingAndGlyphs">20</text>
<line x1="422.40" y1="297.00" x2="517.80" y2="297.00" stroke="#333" stroke-width="1.3"/>
<text x="0" y="0" font-size="8.8" font-weight="bold" transform="translate(404.3 270.2) rotate(-90)" textLength="81.5" lengthAdjust="spacingAndGlyphs">Adaphostin IC<tspan font-size="5.5" dy="1.8">50</tspan><tspan dy="-1.8"> (μM)</tspan></text>
<circle cx="448.20" cy="176.97" r="3.4" fill="none" stroke="#444" stroke-width="0.9"/>
<circle cx="448.20" cy="195.76" r="3.4" fill="none" stroke="#444" stroke-width="0.9"/>
<circle cx="448.20" cy="202.03" r="3.4" fill="none" stroke="#444" stroke-width="0.9"/>
<circle cx="448.20" cy="217.06" r="3.4" fill="none" stroke="#444" stroke-width="0.9"/>
<circle cx="448.20" cy="220.82" r="3.4" fill="none" stroke="#444" stroke-width="0.9"/>
<circle cx="448.20" cy="227.09" r="3.4" fill="none" stroke="#444" stroke-width="0.9"/>
<circle cx="448.20" cy="233.35" r="3.4" fill="none" stroke="#444" stroke-width="0.9"/>
<circle cx="448.20" cy="239.62" r="3.4" fill="none" stroke="#444" stroke-width="0.9"/>
<line x1="439.60" y1="219.30" x2="455.70" y2="219.30" stroke="#111" stroke-width="1.1"/>
<circle cx="473.30" cy="259.40" r="3.4" fill="none" stroke="#444" stroke-width="0.9"/>
<circle cx="473.30" cy="277.80" r="3.4" fill="none" stroke="#444" stroke-width="0.9"/>
<circle cx="473.30" cy="284.40" r="3.4" fill="none" stroke="#444" stroke-width="0.9"/>
<circle cx="473.30" cy="291.00" r="3.4" fill="none" stroke="#444" stroke-width="0.9"/>
<path d="M476.3 257.1 L474.3 259.2 L476.3 261.4" fill="none" stroke="#222" stroke-width="1.2"/>
<line x1="464.50" y1="279.00" x2="480.70" y2="279.00" stroke="#111" stroke-width="1.1"/>
<text x="0" y="0" font-size="10.3" font-weight="bold" transform="translate(442.0 306.9) rotate(46)" textLength="39" lengthAdjust="spacingAndGlyphs">Untreated</text>
<text x="0" y="0" font-size="10.3" font-weight="bold" transform="translate(467.0 305.8) rotate(46.5)" textLength="67.5" lengthAdjust="spacingAndGlyphs">Imatinib-resistant</text>
</svg></body></html>
